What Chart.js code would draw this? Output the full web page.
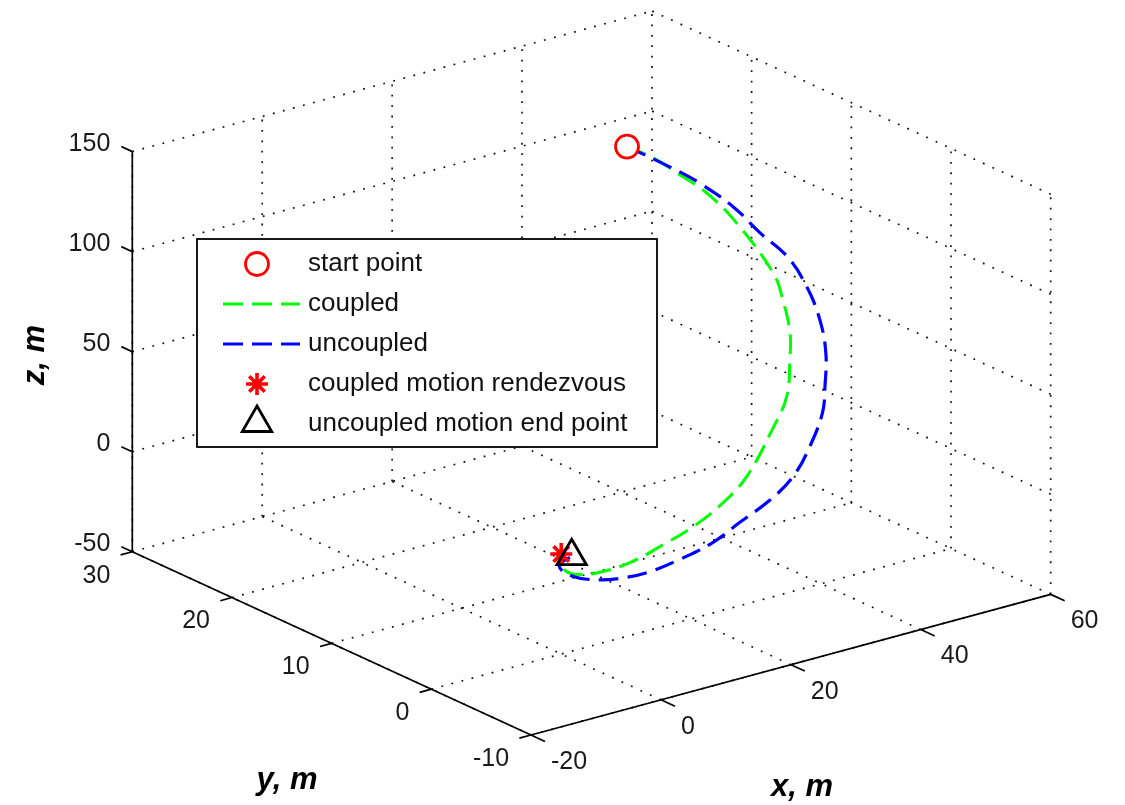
<!DOCTYPE html>
<html>
<head>
<meta charset="utf-8">
<script src="https://cdn.jsdelivr.net/npm/chart.js@4.4.0/dist/chart.umd.min.js"></script>
<style>
  html, body { margin: 0; padding: 0; background: #fff; }
  #wrap { width: 1125px; height: 805px; position: relative; }
</style>
</head>
<body>
<div id="wrap"><canvas id="trajChart"></canvas></div>
<script>
// axis ticks, the box limits are the first and last tick
const xTicks = [-20, 0, 20, 40, 60];
const yTicks = [-10, 0, 10, 20, 30];
const zTicks = [-50, 0, 50, 100, 150];

// coupled relative motion (m)
const coupledX = [29.0, 32.0, 34.6, 38.2, 41.7, 46.3, 47.3, 47.8, 46.7, 45.3, 42.0, 37.0, 32.3, 26.6, 20.9, 15.2, 9.5, 4.9, 1.6, 0];
const coupledY = [12.3, 11.6, 10.9, 10.3, 9.6, 8.9, 8.6, 8.2, 7.5, 6.9, 6.2, 5.5, 4.8, 4.1, 3.4, 2.8, 2.1, 1.4, 0.7, 0];
const coupledZ = [150, 143.2, 135.0, 123.3, 106.9, 79.4, 65.9, 49.8, 38.8, 23.2, 11.1, -6.3, -13.7, -19.1, -21.5, -23.6, -22.0, -17.8, -11.0, 0];

// uncoupled relative motion (m)
const uncoupledX = [29.0, 34.8, 38.5, 42.8, 46.1, 49.4, 51.6, 52.7, 52.7, 51.8, 50.5, 47.8, 44.3, 39.9, 34.4, 29.3, 23.4, 17.9, 12.9, 8.0, 3.3, 0.6, 1.6];
const uncoupledY = [12.3, 11.7, 11.2, 10.6, 10.1, 9.5, 9.0, 8.4, 7.8, 7.3, 6.7, 6.2, 5.6, 5.0, 4.5, 3.9, 3.4, 2.8, 2.2, 1.7, 1.1, 0.6, 0];
const uncoupledZ = [150, 135.9, 125.9, 111.5, 96.9, 83.4, 67.7, 51.5, 36.4, 21.5, 11.0, -2.3, -13.0, -19.3, -24.7, -29.0, -31.1, -31.0, -28.3, -23.8, -16.4, -7.8, -2.5];

// single points [x, y, z]
const startPoint = [29.0, 12.3, 150];
const rendezvousPoint = [0, 0, 0];
const uncoupledEndPoint = [1.6, 0, -2.5];

const legendLabels = ['start point', 'coupled', 'uncoupled', 'coupled motion rendezvous', 'uncoupled motion end point'];

// view like matlab view(3): az -37.5, el 30, box centre / scale in px
const view = { az: -37.5, el: 30, cx: 591.5, cy: 373, sh: 655, sv: 462 };
const W = 1125, H = 805;
const FONT = "'Liberation Sans', Arial, Helvetica, sans-serif";

const xMin = xTicks[0], xMax = xTicks[xTicks.length - 1];
const yMin = yTicks[0], yMax = yTicks[yTicks.length - 1];
const zMin = zTicks[0], zMax = zTicks[zTicks.length - 1];

function project(x, y, z) {
    const a = view.az * Math.PI / 180, e = view.el * Math.PI / 180;
    const nx = (x - xMin) / (xMax - xMin) - 0.5;
    const ny = (y - yMin) / (yMax - yMin) - 0.5;
    const nz = (z - zMin) / (zMax - zMin) - 0.5;
    const u = Math.cos(a) * nx + Math.sin(a) * ny;
    const v = -Math.sin(e) * Math.sin(a) * nx + Math.sin(e) * Math.cos(a) * ny + Math.cos(e) * nz;
    return { x: view.cx + view.sh * u, y: view.cy - view.sv * v };
}

function toPoints(xs, ys, zs) {
    return xs.map((x, i) => project(x, ys[i], zs[i]));
}

// box, grid, axes, ticks and labels
const boxPlugin = {
    id: 'box3d',
    beforeDatasetsDraw(chart) {
        const ctx = chart.ctx, sx = chart.scales.x, sy = chart.scales.y;
        const pix = p => { const q = project(p[0], p[1], p[2]); return [sx.getPixelForValue(q.x), sy.getPixelForValue(q.y)]; };
        const seg = (a, b) => { const p = pix(a), q = pix(b); ctx.moveTo(p[0], p[1]); ctx.lineTo(q[0], q[1]); };

        ctx.save();
        // dotted grid on floor and the two back walls
        ctx.beginPath();
        xTicks.forEach(t => { seg([t, yMin, zMin], [t, yMax, zMin]); seg([t, yMax, zMin], [t, yMax, zMax]); });
        yTicks.forEach(t => { seg([xMin, t, zMin], [xMax, t, zMin]); seg([xMax, t, zMin], [xMax, t, zMax]); });
        zTicks.forEach(t => { seg([xMin, yMax, t], [xMax, yMax, t]); seg([xMax, yMin, t], [xMax, yMax, t]); });
        ctx.setLineDash([1.8, 8.6]);
        ctx.lineWidth = 1.7;
        ctx.strokeStyle = '#111';
        ctx.stroke();

        // solid axis lines + ticks
        ctx.setLineDash([]);
        ctx.beginPath();
        seg([xMin, yMax, zMin], [xMin, yMax, zMax]);
        seg([xMin, yMin, zMin], [xMin, yMax, zMin]);
        seg([xMin, yMin, zMin], [xMax, yMin, zMin]);
        zTicks.forEach(t => seg([xMin, yMax, t], [xMin, yMax + 1.1, t]));
        yTicks.forEach(t => seg([xMin, t, zMin], [xMin - 1.8, t, zMin]));
        xTicks.forEach(t => seg([t, yMin, zMin], [t, yMin - 1.4, zMin]));
        ctx.lineWidth = 1.7;
        ctx.strokeStyle = '#000';
        ctx.stroke();

        // tick labels
        ctx.fillStyle = '#1a1a1a';
        ctx.font = '25px ' + FONT;
        ctx.textBaseline = 'middle';
        ctx.textAlign = 'right';
        zTicks.forEach(t => { const p = pix([xMin, yMax, t]); ctx.fillText(String(t), p[0] - 22, p[1] - 8); });
        yTicks.forEach(t => { const p = pix([xMin, t, zMin]); ctx.fillText(String(t), p[0] - 22, p[1] + 24); });
        ctx.textAlign = 'left';
        xTicks.forEach(t => { const p = pix([t, yMin, zMin]); ctx.fillText(String(t), p[0] + 20, p[1] + 27); });

        // axis titles
        ctx.fillStyle = '#000';
        ctx.font = 'italic bold 31px ' + FONT;
        ctx.textAlign = 'center';
        ctx.fillText('x, m', 802, 787);
        ctx.fillText('y, m', 287, 780);
        ctx.translate(35, 355);
        ctx.rotate(-Math.PI / 2);
        ctx.fillText('z, m', 0, 0);
        ctx.restore();
    }
};

// matlab style legend box inside the axes
const legendPlugin = {
    id: 'boxLegend',
    afterDraw(chart) {
        const ctx = chart.ctx;
        const box = { left: 197, top: 239, right: 657, bottom: 447 };
        const rowTop = 264, rowStep = 40, mx = 257, lineX0 = 223, lineX1 = 300, textX = 308;
        ctx.save();
        ctx.fillStyle = '#fff';
        ctx.fillRect(box.left, box.top, box.right - box.left, box.bottom - box.top);
        ctx.lineWidth = 1.8;
        ctx.strokeStyle = '#000';
        ctx.strokeRect(box.left, box.top, box.right - box.left, box.bottom - box.top);

        chart.data.datasets.forEach((ds, i) => {
            const y = rowTop + i * rowStep;
            ctx.setLineDash([]);
            ctx.strokeStyle = ds.borderColor;
            ctx.lineWidth = ds.borderWidth;
            ctx.beginPath();
            if (ds.showLine) {
                ctx.setLineDash(ds.borderDash);
                ctx.moveTo(lineX0, y);
                ctx.lineTo(lineX1, y);
            } else if (ds.pointStyle === 'circle') {
                ctx.arc(mx, y, ds.pointRadius, 0, Math.PI * 2);
            } else if (ds.pointStyle === 'star') {
                const r = ds.pointRadius;
                for (let k = 0; k < 4; k++) {
                    const ang = k * Math.PI / 4;
                    ctx.moveTo(mx - r * Math.cos(ang), y - r * Math.sin(ang));
                    ctx.lineTo(mx + r * Math.cos(ang), y + r * Math.sin(ang));
                }
            } else if (ds.pointStyle === 'triangle') {
                const r = ds.pointRadius;
                for (let k = 0; k < 3; k++) {
                    const ang = k * 2 * Math.PI / 3;
                    const px = mx + Math.sin(ang) * r, py = y - 1 - Math.cos(ang) * r;
                    if (k === 0) ctx.moveTo(px, py); else ctx.lineTo(px, py);
                }
                ctx.closePath();
            }
            ctx.stroke();

            ctx.fillStyle = '#111';
            ctx.font = '26px ' + FONT;
            ctx.textAlign = 'left';
            ctx.textBaseline = 'middle';
            ctx.fillText(legendLabels[i], textX, y);
        });
        ctx.restore();
    }
};

const ctx = document.getElementById('trajChart');
new Chart(ctx, {
    type: 'scatter',
    data: {
        datasets: [
            {
                label: legendLabels[0],
                data: [project(...startPoint)],
                pointStyle: 'circle',
                pointRadius: 11.5,
                borderColor: '#ff0000',
                backgroundColor: '#ffffff',
                borderWidth: 2.8,
                order: 1
            },
            {
                label: legendLabels[1],
                data: toPoints(coupledX, coupledY, coupledZ),
                showLine: true,
                borderColor: '#00ff00',
                borderWidth: 3,
                borderDash: [20, 9],
                pointRadius: 0,
                tension: 0.4,
                order: 4
            },
            {
                label: legendLabels[2],
                data: toPoints(uncoupledX, uncoupledY, uncoupledZ),
                showLine: true,
                borderColor: '#0000ff',
                borderWidth: 3.2,
                borderDash: [20, 9],
                pointRadius: 0,
                tension: 0.4,
                order: 3
            },
            {
                label: legendLabels[3],
                data: [project(...rendezvousPoint)],
                pointStyle: 'star',
                pointRadius: 11,
                borderColor: '#ff0000',
                backgroundColor: '#ff0000',
                borderWidth: 3.6,
                order: 2
            },
            {
                label: legendLabels[4],
                data: [project(...uncoupledEndPoint)],
                pointStyle: 'triangle',
                pointRadius: 17,
                borderColor: '#000000',
                backgroundColor: 'rgba(0,0,0,0)',
                borderWidth: 2.8,
                order: 0
            }
        ]
    },
    options: {
        responsive: true,
        maintainAspectRatio: false,
        animation: false,
        events: [],
        layout: { padding: 0, autoPadding: false },
        scales: {
            x: { type: 'linear', min: 0, max: W, display: false },
            y: { type: 'linear', min: 0, max: H, reverse: true, display: false }
        },
        plugins: {
            legend: { display: false },
            tooltip: { enabled: false }
        }
    },
    plugins: [boxPlugin, legendPlugin]
});
</script>
</body>
</html>
